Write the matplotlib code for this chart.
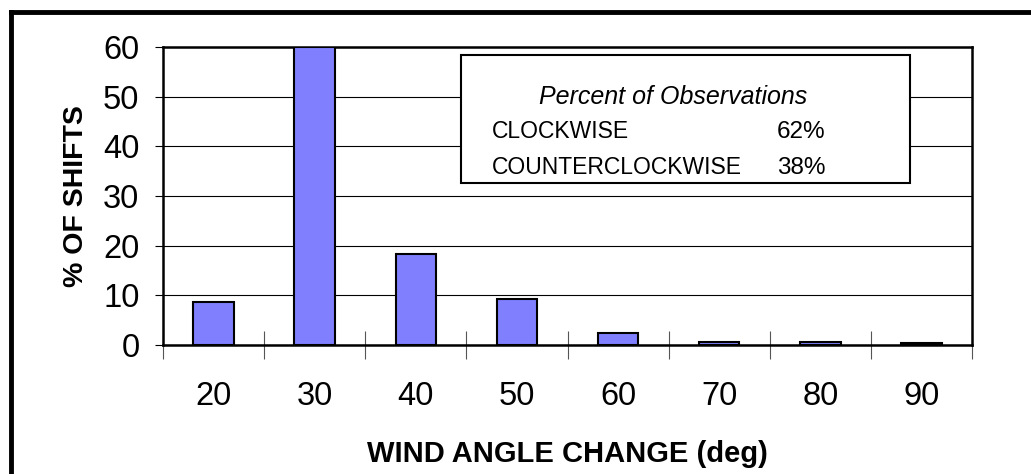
import matplotlib

matplotlib.use("Agg")
import matplotlib.pyplot as plt
from matplotlib.lines import Line2D
from matplotlib.patches import Rectangle

plt.rcParams["font.family"] = ["Liberation Sans", "DejaVu Sans"]

# data
angles = ["20", "30", "40", "50", "60", "70", "80", "90"]
shifts = [8.6, 60.0, 18.4, 9.3, 2.5, 0.6, 0.6, 0.3]
y_ticks = [0, 10, 20, 30, 40, 50, 60]
legend_title = "Percent of Observations"
legend_names = ["CLOCKWISE", "COUNTERCLOCKWISE"]
legend_values = ["62%", "38%"]

fig = plt.figure(figsize=(10.31, 4.74), dpi=100)
ax = fig.add_axes([0.1581, 0.2722, 0.7847, 0.6286])

pos = list(range(1, len(angles) + 1))
ax.bar(pos, shifts, width=0.4, color="#8080FF", edgecolor="black",
       linewidth=1.5, zorder=3)

ax.set_xlim(0.5, len(angles) + 0.5)
ax.set_ylim(0, 60)
ax.set_yticks(y_ticks)
ax.tick_params(axis="y", labelsize=23.5, length=6, width=0.8, pad=11,
               direction="out")
ax.yaxis.grid(True, color="black", linewidth=0.8, zorder=0)
ax.set_axisbelow(True)

# category boundaries as crossing tick marks, labels in the middle
ax.set_xticks([p - 0.5 for p in pos] + [len(angles) + 0.5])
ax.set_xticklabels([])
ax.tick_params(axis="x", which="major", direction="inout", length=20,
               width=0.8, color="#555555")
ax.set_xticks(pos, minor=True)
ax.set_xticklabels(angles, minor=True)
ax.tick_params(axis="x", which="minor", length=0, labelsize=23.5, pad=26)

for s in ax.spines.values():
    s.set_linewidth(1.8)
    s.set_color("black")

ax.set_xlabel("WIND ANGLE CHANGE (deg)", fontsize=21, fontweight="bold",
              labelpad=20)
ax.set_ylabel("% OF SHIFTS", fontsize=20.5, fontweight="bold", labelpad=10)

# text box with the percentages
ax.add_patch(Rectangle((0.368, 0.544), 0.555, 0.43, transform=ax.transAxes,
                       facecolor="white", edgecolor="black", linewidth=1.5,
                       zorder=5))
ax.text(0.630, 0.832, legend_title, transform=ax.transAxes, fontsize=18,
        style="italic", ha="center", va="center", zorder=6)
for i, (name, val) in enumerate(zip(legend_names, legend_values)):
    y = 0.715 - i * 0.121
    ax.text(0.407, y, name, transform=ax.transAxes, fontsize=16.5,
            ha="left", va="center", zorder=6)
    ax.text(0.759, y, val, transform=ax.transAxes, fontsize=17.5,
            ha="left", va="center", zorder=6)

# outer frame (left and top edges only visible)
fig.add_artist(Line2D([11 / 1031, 11 / 1031], [0, 1 - 12 / 474],
                      transform=fig.transFigure, color="black", linewidth=3.5))
fig.add_artist(Line2D([11 / 1031, 1], [1 - 12 / 474, 1 - 12 / 474],
                      transform=fig.transFigure, color="black", linewidth=3.5))

fig.savefig("out.png", dpi=100)
